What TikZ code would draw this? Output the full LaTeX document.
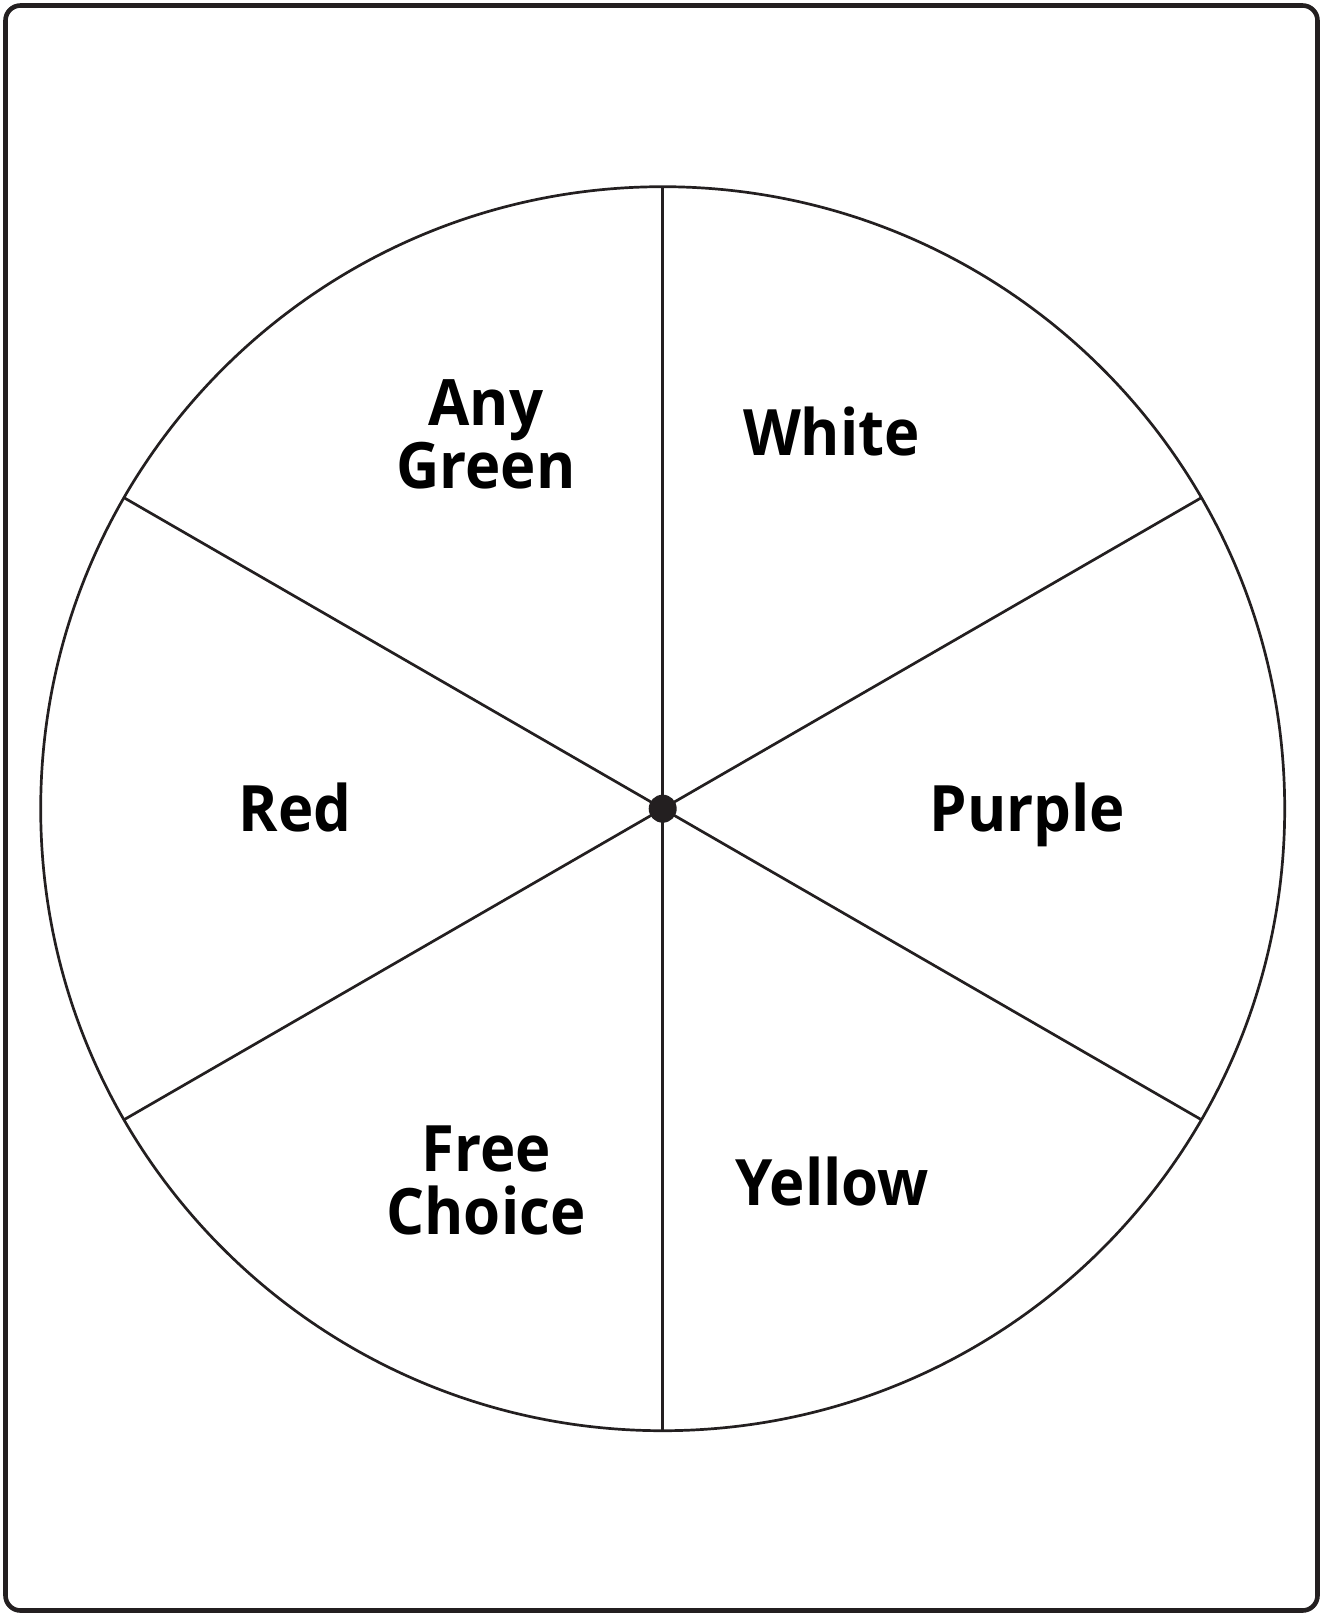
\documentclass[tikz,border=0pt]{standalone}
\usepackage{fontspec}
\setmainfont{Open Sans}[FakeStretch=0.935]
\usetikzlibrary{calc}
\definecolor{ink}{HTML}{231F20}
\begin{document}
\begin{tikzpicture}[x=1pt,y=-1pt,
  lbl/.style={font=\fontsize{64}{63}\selectfont\bfseries, text=black, inner sep=0pt, anchor=base, align=center},
  spoke/.style={draw=ink, line width=2.7pt},
  frame/.style={draw=ink, line width=4.6pt, rounded corners=15pt}]
\useasboundingbox (0,0) rectangle (1322,1615);
\draw[frame] (5.5,5.5) rectangle (1317.5,1610.5);
\coordinate (c) at (662.7,808.7);
\draw[ink, line width=2.7pt] (c) circle (622);
\foreach \a/\n in {90/t,30/tr,-30/br,-90/b,-150/bl,150/tl}{
  \coordinate (\n) at ($(c)+(\a:622)$);
  \draw[spoke] (c) -- (\n);
}
\fill[ink] (c) circle (14);
\node[lbl] (anygreen) at (486,488) {Any\\Green};
\node[lbl] (white) at (831.5,455.5) {White};
\node[lbl] (red) at (295,831.5) {Red};
\node[lbl] (purple) at (1027.5,831.5) {Purple};
\node[lbl] (yellow) at (832,1205) {Yellow};
\node[lbl] (freechoice) at (486,1234.5) {Free\\Choice};
\end{tikzpicture}
\end{document}
